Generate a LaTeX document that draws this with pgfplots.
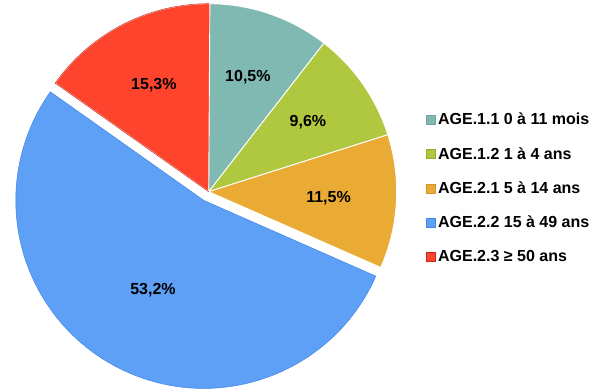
\documentclass[border=0pt]{standalone}
\usepackage{fontspec}
\setmainfont{Liberation Sans}
\usepackage{pgfplots}
\pgfplotsset{compat=1.18}
\definecolor{cA}{HTML}{80B8B2}\definecolor{cAd}{HTML}{6FA59F}
\definecolor{cB}{HTML}{B0C840}\definecolor{cBd}{HTML}{98AE30}
\definecolor{cC}{HTML}{EAAB35}\definecolor{cCd}{HTML}{D0942A}
\definecolor{cD}{HTML}{5EA0F5}\definecolor{cDd}{HTML}{3F86E8}
\definecolor{cE}{HTML}{FF442D}\definecolor{cEd}{HTML}{C8281A}
% data (percent)
\def\vA{10.5}\def\vB{9.6}\def\vC{11.5}\def\vD{53.2}\def\vE{15.3}
\begin{document}
\begin{tikzpicture}
\pgfmathsetmacro\sA{90}
\pgfmathsetmacro\eA{\sA-3.6*\vA}
\pgfmathsetmacro\eB{\eA-3.6*\vB}
\pgfmathsetmacro\eC{\eB-3.6*\vC}
\pgfmathsetmacro\eD{\eC-3.6*\vD}
\pgfmathsetmacro\eE{\eD-3.6*\vE}
\pgfmathsetmacro\mA{(\sA+\eA)/2}
\pgfmathsetmacro\mB{(\eA+\eB)/2}
\pgfmathsetmacro\mC{(\eB+\eC)/2}
\pgfmathsetmacro\mD{(\eC+\eD)/2}
\pgfmathsetmacro\mE{(\eD+\eE)/2}
\pgfmathsetmacro\dx{208.7+10*cos(\mD)}
\pgfmathsetmacro\dy{197.3+10*sin(\mD)}
\useasboundingbox (0,0) rectangle (609bp,389bp);
\begin{axis}[width=609bp,height=389bp,scale only axis,
  xmin=0,xmax=609,ymin=0,ymax=389,hide axis,clip=false,
  legend style={at={(axis cs:426,276)},anchor=north west,draw=none,fill=none,
    font=\fontsize{16bp}{19bp}\selectfont\bfseries,row sep=21bp,inner sep=0pt,
    nodes={inner xsep=2.5bp,inner ysep=0pt}},
  legend cell align=left,
  legend image code/.code={\draw[#1] (0bp,-4.5bp) rectangle (9bp,4.5bp);}]
\addlegendimage{fill=cA,draw=cAd}\addlegendentry{AGE.1.1 0 à 11 mois}
\addlegendimage{fill=cB,draw=cBd}\addlegendentry{AGE.1.2 1 à 4 ans}
\addlegendimage{fill=cC,draw=cCd}\addlegendentry{AGE.2.1 5 à 14 ans}
\addlegendimage{fill=cD,draw=cDd}\addlegendentry{AGE.2.2 15 à 49 ans}
\addlegendimage{fill=cE,draw=cEd}\addlegendentry{AGE.2.3 ≥ 50 ans}
% slices
\filldraw[fill=cA,draw=white,line width=0.9pt] (axis cs:208.7,197.3) -- ++(\sA:188bp) arc[start angle=\sA,end angle=\eA,radius=188bp] -- cycle;
\filldraw[fill=cB,draw=white,line width=0.9pt] (axis cs:208.7,197.3) -- ++(\eA:188bp) arc[start angle=\eA,end angle=\eB,radius=188bp] -- cycle;
\filldraw[fill=cC,draw=white,line width=0.9pt] (axis cs:208.7,197.3) -- ++(\eB:188bp) arc[start angle=\eB,end angle=\eC,radius=188bp] -- cycle;
\filldraw[fill=cE,draw=white,line width=0.9pt] (axis cs:208.7,197.3) -- ++(\eD:188bp) arc[start angle=\eD,end angle=\eE,radius=188bp] -- cycle;
\draw[cEd,line width=0.5pt] (axis cs:208.7,197.3) ++(\eD:188bp) arc[start angle=\eD,end angle=\eE+0.3,radius=188bp];
\draw[cEd,line width=0.5pt] (axis cs:208.7,197.3) -- ++(\eD:188bp);
\filldraw[fill=cD,draw=cDd,line width=0.5pt] (axis cs:\dx,\dy) -- ++(\eC:188bp) arc[start angle=\eC,end angle=\eD,radius=188bp] -- cycle;
% labels
\begin{scope}[every node/.style={font=\fontsize{16bp}{19bp}\selectfont\bfseries,inner sep=0pt}]
\node at (axis cs:208.7,197.3) [shift={(\mA:121bp)}] {10,5\%};
\node at (axis cs:208.7,197.3) [shift={(\mB:121bp)}] {9,6\%};
\node at (axis cs:208.7,197.3) [shift={(\mC:120bp)}] {11,5\%};
\node at (axis cs:\dx,\dy) [shift={(\mD:103bp)}] {53,2\%};
\node at (axis cs:208.7,197.3) [shift={(\mE:120bp)}] {15,3\%};
\end{scope}
\end{axis}
\end{tikzpicture}
\end{document}
